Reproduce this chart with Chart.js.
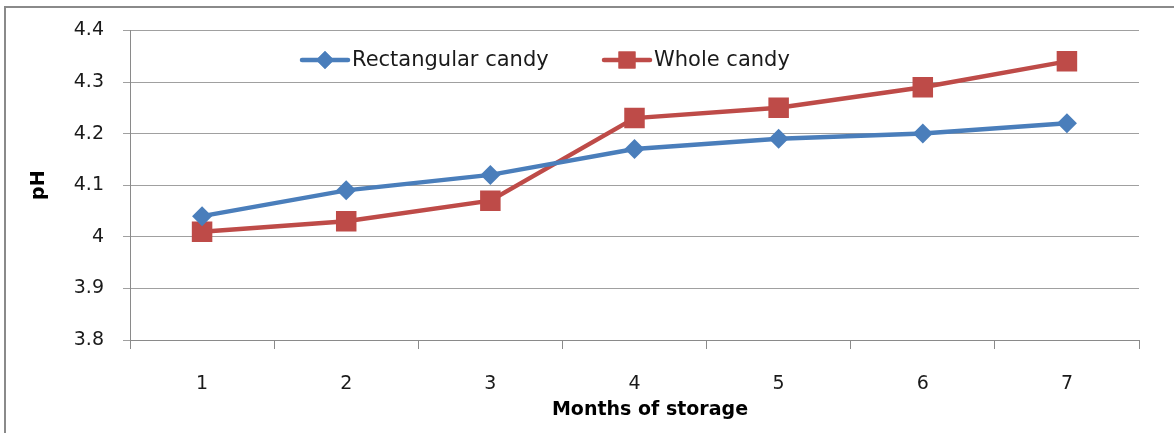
<!DOCTYPE html>
<html>
<head>
<meta charset="utf-8">
<script src="https://cdn.jsdelivr.net/npm/chart.js@4.4.0/dist/chart.umd.min.js"></script>
<style>
html,body{margin:0;padding:0;background:#fff;}
#wrap{position:relative;width:1174px;height:433px;}
</style>
</head>
<body>
<div id="wrap"><canvas id="c" width="1174" height="433"></canvas></div>
<script>
const categories = ['1','2','3','4','5','6','7'];
const rectangularCandy = [4.04, 4.09, 4.12, 4.17, 4.19, 4.20, 4.22];
const wholeCandy = [4.01, 4.03, 4.07, 4.23, 4.25, 4.29, 4.34];
const seriesNames = ['Rectangular candy', 'Whole candy'];
const yTicks = [3.8, 3.9, 4.0, 4.1, 4.2, 4.3, 4.4];
const xTitle = 'Months of storage';
const yTitle = 'pH';

const BLUE = '#4A7EBB', RED = '#BE4B48';
const FONT = '"DejaVu Sans", sans-serif';

const deco = {
  id: 'deco',
  beforeDraw(chart) {
    const ctx = chart.ctx;
    ctx.save();
    ctx.fillStyle = '#fff';
    ctx.fillRect(0, 0, chart.width, chart.height);
    ctx.strokeStyle = '#8a8a8a';
    ctx.lineWidth = 2;
    ctx.beginPath();
    ctx.moveTo(5, 433); ctx.lineTo(5, 7); ctx.lineTo(1174, 7);
    ctx.stroke();
    ctx.restore();
  },
  afterDraw(chart) {
    const ctx = chart.ctx;
    const ca = chart.chartArea;
    ctx.save();
    ctx.fillStyle = '#000';
    ctx.font = 'bold 19px ' + FONT;
    ctx.textAlign = 'center';
    ctx.textBaseline = 'middle';
    ctx.fillText(xTitle, 650, 410);
    ctx.translate(39, (ca.top + ca.bottom) / 2);
    ctx.rotate(-Math.PI / 2);
    ctx.font = 'bold 19px ' + FONT;
    ctx.fillText(yTitle, 0, 0);
    ctx.restore();
    const items = [
      {x: 302, name: seriesNames[0], color: BLUE, style: 'rectRot', r: 9},
      {x: 604, name: seriesNames[1], color: RED, style: 'rect', r: 12}
    ];
    const ly = 60;
    ctx.save();
    items.forEach(it => {
      ctx.strokeStyle = it.color;
      ctx.lineWidth = 4.5;
      ctx.lineCap = 'round';
      ctx.beginPath();
      ctx.moveTo(it.x, ly); ctx.lineTo(it.x + 46, ly);
      ctx.stroke();
      ctx.fillStyle = it.color;
      Chart.helpers.drawPoint(ctx, {pointStyle: it.style, radius: it.r, borderWidth: 0, rotation: 0}, it.x + 23, ly);
      ctx.fill();
      ctx.fillStyle = '#1a1a1a';
      ctx.font = '21px ' + FONT;
      ctx.textAlign = 'left';
      ctx.textBaseline = 'middle';
      ctx.fillText(it.name, it.x + 50, ly + 1);
    });
    ctx.restore();
  }
};

new Chart(document.getElementById('c'), {
  type: 'line',
  data: {
    labels: categories,
    datasets: [
      {label: seriesNames[0], data: rectangularCandy, borderColor: BLUE, backgroundColor: BLUE,
       borderWidth: 4.5, pointStyle: 'rectRot', pointRadius: 10, pointBorderWidth: 0, tension: 0},
      {label: seriesNames[1], data: wholeCandy, borderColor: RED, backgroundColor: RED,
       borderWidth: 4.5, pointStyle: 'rect', pointRadius: 14.5, pointBorderWidth: 0, tension: 0}
    ]
  },
  options: {
    responsive: false,
    animation: false,
    layout: {padding: {left: 0, top: 30, right: 35, bottom: 0}},
    plugins: {legend: {display: false}, tooltip: {enabled: false}},
    scales: {
      x: {
        offset: true,
        grid: {display: true, drawOnChartArea: false, offset: true, color: '#8a8a8a', tickLength: 9, lineWidth: 1},
        border: {color: '#8a8a8a', width: 1},
        ticks: {color: '#1a1a1a', font: {family: FONT, size: 19}, padding: 24},
        afterFit(s) { s.height = 93; }
      },
      y: {
        min: 3.8, max: 4.4,
        afterBuildTicks(s) { s.ticks = yTicks.map(v => ({value: v})); },
        grid: {color: '#a0a0a0', tickLength: 7, lineWidth: 1},
        border: {color: '#8a8a8a', width: 1},
        ticks: {color: '#1a1a1a', font: {family: FONT, size: 19}, padding: 19,
                callback: v => (Math.round(v * 10) / 10).toString()},
        afterFit(s) { s.width = 130; }
      }
    }
  },
  plugins: [deco]
});
</script>
</body>
</html>
